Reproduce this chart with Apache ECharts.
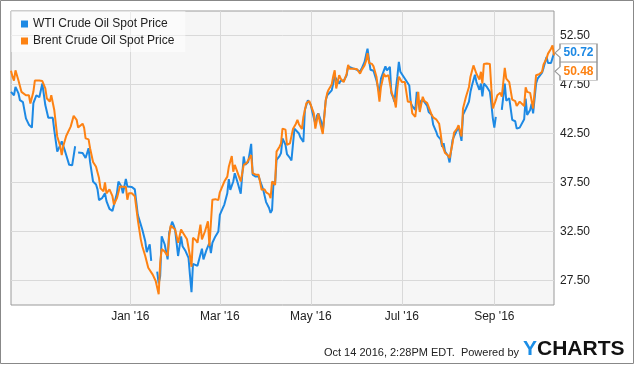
<!DOCTYPE html>
<html>
<head>
<meta charset="utf-8">
<script src="https://cdn.jsdelivr.net/npm/echarts@6/dist/echarts.min.js"></script>
<style>
  body { margin: 0; background: #fff; }
  #container { width: 635px; height: 366px; }
</style>
</head>
<body>
<div id="container"></div>
<script>
// days are counted from 1 Jan 2016, null = no quote that day
var wtiDays = [-80,-79,-78,-77,-75,-74,-72,-70,-68,-66,-65,-64,-63,-61,-60,-59,-57,-55,-54,-52,-51,-49,-47,-46,-44,-43,-41,-39,-37,-36,-35,-32,-31,-30,-28,-27,-25,-23,-22,-21,-19,-17,-16,-14,-12,-11,-9,-8,-6,-5,-3,-2,-1,
  1,3,5,7,8,10,11,12,13,14,15,18,19,20,21,23,25,26,28,29,30,32,34,35,37,39,40,41,42,43,45,46,48,49,51,53,54,55,57,59,60,61,63,65,66,67,69,70,72,74,76,77,79,81,82,84,86,87,89,90,91,93,94,95,96,97,98,
  100,101,102,104,105,107,108,110,111,113,114,116,117,119,120,121,122,124,125,126,128,129,131,132,133,135,136,137,138,140,141,143,145,146,147,150,152,154,155,157,158,159,160,161,163,165,167,168,170,171,172,174,175,176,177,178,179,180,181,182,187,188,189,191,192,194,195,197,199,
  200,202,203,205,206,208,209,210,211,213,214,216,217,219,220,222,223,225,227,228,229,231,232,234,235,236,237,239,241,242,243,244,245,247,249,251,252,254,255,256,258,259,261,262,264,265,266,268,269,270,272,273,274,276,277,279,280,282,283,284];
var wti = [46.75,46.6,46.4,47.25,46.6,45.9,45.7,44.05,43.4,43.1,45.6,45.8,46.4,46.2,46.1,47.6,45.4,44.1,43.9,44.1,42.85,40.65,41.3,41.7,40.8,40.3,39.3,39.25,41.2,null,40.55,40.5,40.4,40.0,41.0,39.6,37.6,37.3,36.8,35.7,35.9,36.4,35.6,34.8,34.6,34.6,36.4,37.6,37.1,36.4,37.85,37.1,37.2,
  37.05,36.8,34.2,33.2,32.7,31.5,30.4,30.4,31.2,29.5,null,28.4,27.2,27.95,32.0,31.2,29.65,32.35,33.5,33.15,32.7,30.0,32.0,31.0,30.5,29.8,28.0,26.3,29.2,29.0,29.0,28.9,30.75,29.65,30.6,31.35,30.3,31.35,32.0,32.5,34.2,34.55,35.25,36.4,37.85,36.75,37.6,38.45,37.45,36.35,40.15,39.3,39.6,41.45,38.3,38.1,38.1,37.95,36.8,36.85,35.5,34.9,34.4,34.7,37.6,37.25,39.8,
  40.2,40.5,42.0,41.35,40.4,40.0,39.75,43.0,43.2,42.5,42.1,41.65,44.9,45.9,45.9,45.4,44.7,43.5,44.3,44.55,43.7,42.7,45.9,46.4,46.25,46.9,47.6,48.3,48.1,47.6,47.9,47.85,48.45,49.35,49.3,49.1,49.0,48.8,49.1,49.8,50.5,51.15,50.0,49.0,48.9,47.9,46.6,48.1,48.95,49.35,48.95,49.3,46.6,46.25,45.75,45.6,48.3,49.8,48.8,48.95,47.4,45.6,45.3,44.9,46.75,44.9,45.9,45.75,45.3,
  44.7,44.4,43.4,42.7,42.25,41.9,41.15,41.5,40.65,40.2,39.55,41.85,42.2,42.85,43.2,41.75,44.4,45.05,45.75,46.75,47.4,48.5,47.75,46.95,47.6,46.3,47.6,47.25,46.75,45.55,44.05,43.1,44.2,null,44.9,47.6,45.85,46.1,46.2,43.9,43.75,43.0,43.1,43.25,43.95,46.05,44.4,44.9,45.55,44.55,47.6,48.1,48.3,48.7,49.2,50.3,49.7,49.7,49.7,50.72];

var brentDays = [-80,-79,-78,-77,-75,-73,-70,-68,-67,-65,-64,-61,-59,-57,-56,-54,-53,-51,-49,-47,-46,-45,-43,-40,-38,-36,-35,-32,-31,-30,-28,-27,-25,-23,-21,-20,-18,-17,-16,-14,-12,-11,-9,-7,-6,-3,-2,-1,
  1,3,5,7,8,10,12,13,15,17,18,19,20,21,23,25,26,27,28,30,31,32,34,36,38,40,41,42,44,45,46,47,48,50,52,53,55,57,59,60,61,63,65,66,68,69,70,72,74,76,78,79,81,82,84,86,87,88,90,91,93,94,95,97,98,
  100,101,102,104,105,107,108,109,111,112,113,115,116,118,120,121,123,124,125,126,127,129,131,132,133,135,136,137,138,140,141,143,145,146,147,150,152,154,155,157,158,159,160,162,163,165,167,168,170,171,173,174,175,177,178,179,180,182,184,185,186,188,189,191,192,193,194,196,197,199,
  200,202,203,205,207,208,209,211,213,214,216,217,219,220,222,223,225,227,228,230,231,232,234,235,236,237,239,241,242,243,245,246,248,249,251,252,254,255,256,258,259,261,262,264,265,266,268,269,270,272,273,274,276,277,279,280,282,283,284];
var brent = [48.9,48.3,47.9,48.95,47.9,46.75,46.4,46.4,45.55,46.75,47.9,47.9,47.85,47.1,46.1,45.75,46.4,44.9,42.2,41.2,40.3,41.2,42.25,43.2,44.3,43.9,43.1,43.5,43.1,42.0,41.9,41.0,39.6,39.1,37.95,36.9,36.6,37.5,36.4,36.8,36.1,35.25,35.9,37.1,37.1,37.05,35.75,36.4,
  36.4,36.1,33.7,31.7,31.0,30.0,28.8,28.9,28.1,27.45,27.3,26.1,29.3,30.7,30.45,30.0,32.0,33.1,33.0,32.7,32.05,31.35,32.7,32.2,31.7,30.0,28.9,31.85,31.6,31.35,31.2,33.2,31.7,32.5,33.55,31.0,35.75,35.8,35.7,36.5,36.45,37.6,38.1,39.1,40.2,38.6,39.3,38.45,37.6,39.3,39.5,39.6,40.3,38.45,38.3,38.3,38.3,36.75,36.8,36.5,36.3,35.9,37.6,37.25,40.65,
  41.15,41.5,43.0,42.9,41.35,41.5,41.65,42.95,43.5,43.9,43.45,42.95,44.2,45.6,45.8,45.75,44.55,43.0,43.0,44.55,43.7,42.45,45.9,46.65,47.0,47.5,48.35,48.95,47.1,48.45,48.1,47.75,48.6,49.5,49.1,49.1,49.05,48.6,48.95,49.45,49.9,50.7,49.7,49.6,49.35,48.3,45.75,47.25,48.6,48.3,48.45,48.6,46.75,45.9,45.15,47.1,48.3,47.75,47.75,47.9,45.75,45.75,44.55,44.2,44.05,46.75,44.7,46.25,45.85,45.6,
  45.75,44.4,44.15,43.95,43.5,42.5,41.35,40.5,40.25,40.0,41.5,42.6,43.0,43.35,42.2,45.05,46.25,47.25,48.3,49.45,49.3,48.6,48.0,48.8,47.6,49.6,49.65,49.6,47.1,45.05,45.9,46.4,46.65,46.25,49.2,48.1,47.75,47.6,45.95,45.8,45.3,45.75,45.9,45.3,47.2,46.75,46.65,46.65,45.05,48.45,48.35,48.55,48.8,49.55,50.15,50.65,51.15,51.5,50.48];

var xTickDates = ['2016-01-01', '2016-03-01', '2016-05-01', '2016-07-01', '2016-09-01'];
var yTicks = [27.5, 32.5, 37.5, 42.5, 47.5, 52.5];
var names = ['WTI Crude Oil Spot Price', 'Brent Crude Oil Spot Price'];
var colors = ['#1d89e4', '#fd8213'];
var months = ['Jan','Feb','Mar','Apr','May','Jun','Jul','Aug','Sep','Oct','Nov','Dec'];

var DAY = 86400000;
var base = Date.UTC(2016, 0, 1);

function toPairs(days, vals) {
    var out = [];
    for (var i = 0; i < days.length; i++) {
        out.push([base + days[i] * DAY, vals[i] == null ? '-' : vals[i]]);
    }
    return out;
}

var callout = 'path://M5,0L42,0L42,18L5,18L5,13.5L0,9L5,4.5Z';

function endMark(days, vals, color, dy) {
    var n = days.length - 1;
    return {
        silent: true,
        symbol: callout,
        symbolSize: [42, 18],
        symbolKeepAspect: false,
        symbolOffset: [22, dy],
        itemStyle: { color: '#fff', borderColor: '#999', borderWidth: 1 },
        label: {
            show: true, position: 'inside', offset: [2.5, 0],
            color: color, fontWeight: 'bold', fontSize: 12,
            fontFamily: 'Liberation Sans, Arial',
            formatter: function (p) { return p.value.toFixed(2); }
        },
        data: [{ coord: [base + days[n] * DAY, vals[n]], value: vals[n] }]
    };
}

var dom = document.getElementById('container');
var myChart = echarts.init(dom, null, { renderer: 'canvas' });

var xTicks = xTickDates.map(function (s) { return Date.parse(s + 'T00:00:00Z'); });

var option = {
    animation: false,
    textStyle: { fontFamily: 'Liberation Sans, Arial' },
    grid: {
        left: 11, top: 11, right: 81, bottom: 61,
        show: true, backgroundColor: '#f6f6f6', borderColor: '#9a9a9a', borderWidth: 1
    },
    legend: {
        orient: 'vertical', left: 11, top: 11,
        padding: [7, 11, 5, 10],
        itemGap: 5, itemWidth: 7, itemHeight: 7, icon: 'rect',
        backgroundColor: 'rgba(255,255,255,0.5)',
        textStyle: { fontSize: 12, color: '#222', fontFamily: 'Liberation Sans, Arial' },
        data: names
    },
    xAxis: {
        type: 'value',
        min: base - 80 * DAY,
        max: base + 284 * DAY,
        axisLine: { show: false },
        axisTick: { show: false, customValues: xTicks },
        splitLine: { show: true, lineStyle: { color: '#d9d9d9', width: 1 } },
        axisLabel: {
            customValues: xTicks, margin: 6, fontSize: 12, color: '#222',
            formatter: function (v) {
                var d = new Date(v);
                return months[d.getUTCMonth()] + " '" + String(d.getUTCFullYear()).slice(2);
            }
        }
    },
    yAxis: {
        type: 'value', position: 'right',
        min: 25, max: 55,
        axisLine: { show: false },
        axisTick: { show: false, customValues: yTicks },
        splitLine: { show: true, lineStyle: { color: '#d9d9d9', width: 1 } },
        axisLabel: {
            customValues: yTicks, margin: 6, fontSize: 12, color: '#222',
            formatter: function (v) { return v.toFixed(2); }
        }
    },
    graphic: [
        { type: 'rect', silent: true, z: -1,
          shape: { x: 0.5, y: 0.5, width: 633, height: 363 },
          style: { fill: 'none', stroke: '#888', lineWidth: 1 } },
        { type: 'text', silent: true, right: 116, top: 347,
          style: { text: 'Oct 14 2016, 2:28PM EDT.  Powered by', fontSize: 11,
                   fontFamily: 'Liberation Sans, Arial', fill: '#222' } },
        { type: 'text', silent: true, left: 523, top: 339,
          style: { text: '{y|Y}{c|CHARTS}',
                   rich: {
                       y: { fontSize: 21, fontWeight: 'bold', fontFamily: 'Liberation Sans, Arial', fill: '#1a8de6' },
                       c: { fontSize: 21, fontWeight: 'bold', fontFamily: 'Liberation Sans, Arial', fill: '#111' }
                   } } }
    ],
    series: [
        {
            name: names[0], type: 'line', data: toPairs(wtiDays, wti),
            showSymbol: false, connectNulls: false,
            lineStyle: { width: 2, color: colors[0] }, itemStyle: { color: colors[0] },
            markPoint: endMark(wtiDays, wti, colors[0], 0)
        },
        {
            name: names[1], type: 'line', data: toPairs(brentDays, brent),
            showSymbol: false, connectNulls: false,
            lineStyle: { width: 2, color: colors[1] }, itemStyle: { color: colors[1] },
            markPoint: endMark(brentDays, brent, colors[1], 16)
        }
    ]
};

myChart.setOption(option);
</script>
</body>
</html>
